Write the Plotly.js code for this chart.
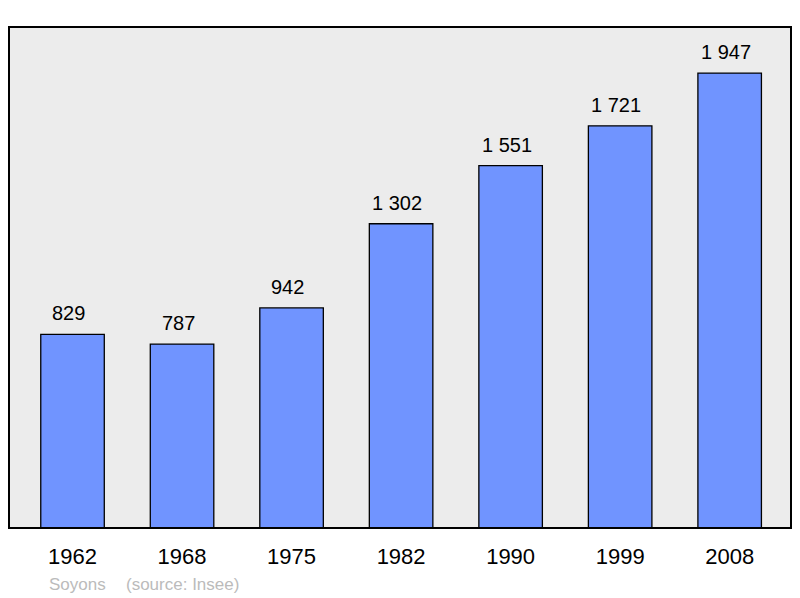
<!DOCTYPE html>
<html>
<head>
<meta charset="utf-8">
<script src="https://cdn.plot.ly/plotly-3.0.1.min.js"></script>
<style>html,body{margin:0;padding:0;background:#fff;}#chart{width:800px;height:598px;}</style>
</head>
<body>
<div id="chart"></div>
<script>
var years = ["1962", "1968", "1975", "1982", "1990", "1999", "2008"];
var population = [829, 787, 942, 1302, 1551, 1721, 1947];
var valueLabels = ["829", "787", "942", "1 302", "1 551", "1 721", "1 947"];
var commune = "Soyons";
var source = "(source: Insee)";

var font = "Liberation Sans, Arial, sans-serif";

var annotations = years.map(function (y, i) {
  return {
    x: i, y: population[i], xref: "x", yref: "y",
    text: valueLabels[i], showarrow: false,
    yanchor: "bottom", yshift: 8, xshift: -4,
    font: {family: font, size: 20, color: "#000"}
  };
});
annotations.push({
  xref: "paper", yref: "paper", x: 0.049, y: -0.112, xanchor: "left", yanchor: "middle",
  text: commune, showarrow: false,
  font: {family: font, size: 17, color: "#bbbbbb"}
});
annotations.push({
  xref: "paper", yref: "paper", x: 0.147, y: -0.112, xanchor: "left", yanchor: "middle",
  text: source, showarrow: false,
  font: {family: font, size: 17, color: "#bbbbbb"}
});

var trace = {
  type: "bar",
  x: years,
  y: population,
  marker: {color: "rgb(112,148,255)", line: {color: "#000", width: 1.3}},
  hoverinfo: "skip"
};

var layout = {
  width: 800, height: 598,
  margin: {l: 9, r: 9, t: 27, b: 70, pad: 0},
  paper_bgcolor: "#ffffff",
  plot_bgcolor: "#ececec",
  bargap: 0.42,
  showlegend: false,
  xaxis: {
    type: "category", range: [-0.58, 6.56],
    showgrid: false, zeroline: false, showline: false, ticks: "",
    tickfont: {family: font, size: 22, color: "#000"},
    ticklabelstandoff: 13
  },
  yaxis: {
    range: [0, 2144], showgrid: false, zeroline: false, showline: false,
    showticklabels: false, ticks: ""
  },
  shapes: [{
    type: "rect", xref: "paper", yref: "paper", x0: 0, x1: 1, y0: 0, y1: 1,
    line: {color: "#000", width: 2}, layer: "above"
  }],
  annotations: annotations
};

Plotly.newPlot("chart", [trace], layout, {displayModeBar: false, staticPlot: true});
</script>
</body>
</html>
